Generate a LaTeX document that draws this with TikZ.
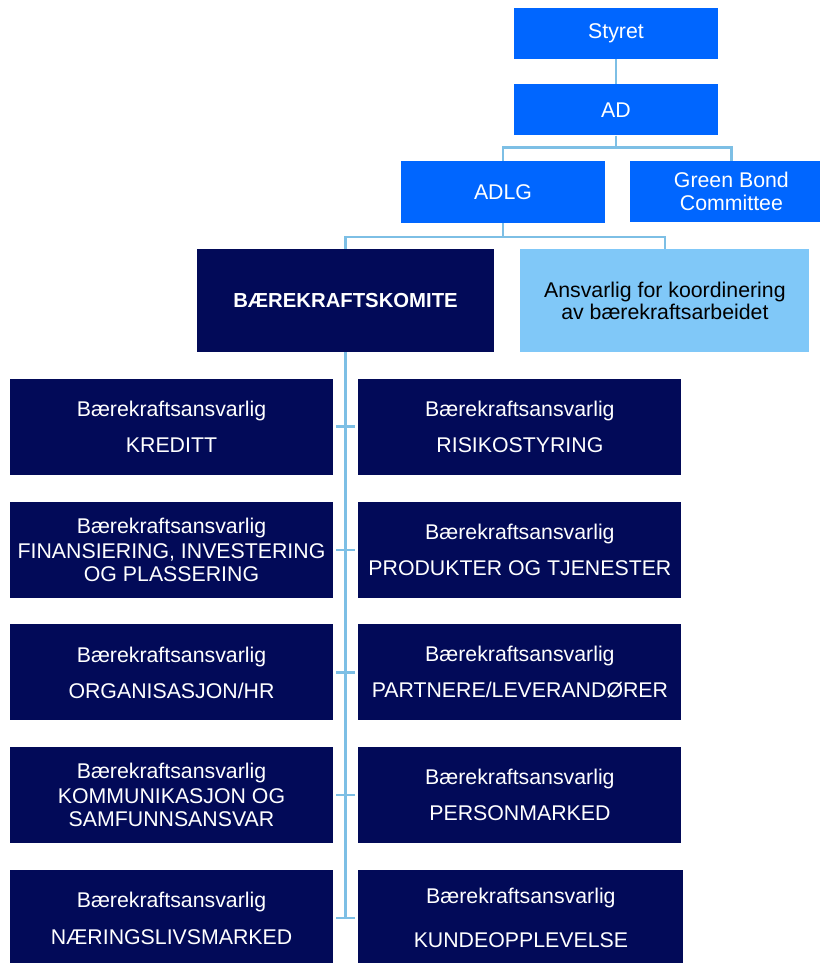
\documentclass[tikz,border=0pt]{standalone}
\usepackage{fontspec}
\setmainfont{Liberation Sans}
\usetikzlibrary{positioning}
\definecolor{topblue}{RGB}{0,102,255}
\definecolor{navy}{RGB}{2,10,88}
\definecolor{paleblue}{RGB}{128,200,248}
\definecolor{linkblue}{RGB}{125,191,229}

\begin{document}
\begin{tikzpicture}[font=\fontsize{21.3}{22.5}\selectfont,
  topbox/.style={rectangle, fill=topblue, text=white, align=center, inner sep=0pt, minimum width=204pt, minimum height=51pt},
  navybox/.style={rectangle, fill=navy, text=white, align=center, inner sep=0pt, minimum height=103pt},
  role/.style={rectangle, fill=navy, text=white, align=center, inner sep=0pt, minimum width=323pt, minimum height=96pt},
  link/.style={draw=linkblue, line width=2.5pt}]

\useasboundingbox (0,0) rectangle (819pt,-963pt);

% Top levels

\node [topbox] (styret) at (616pt,-33.5pt) {Styret};
\node [topbox, below=25pt of styret] (ad) {AD};
\node [topbox, minimum height=62pt, below=25pt of ad.south west, anchor=north west, xshift=-113pt] (adlg) {ADLG};
\node [topbox, minimum width=202pt, minimum height=61pt, right=25pt of adlg.north east, anchor=north west] (gbc) {Green Bond\\Committee};

\node [navybox, minimum width=297pt, below=26pt of adlg.south west, anchor=north west, xshift=-204pt] (komite) {\bfseries\fontsize{20.3}{22.5}\selectfont BÆREKRAFTSKOMITE};
\node [navybox, fill=paleblue, text=black, minimum width=289pt, right=26pt of komite.north east, anchor=north west] (koord) {Ansvarlig for koordinering\\av bærekraftsarbeidet};

% Responsible persons

\node [role, below=26pt of komite.south west, anchor=north west, xshift=-187pt] (k1) {Bærekraftsansvarlig\\[13.5pt]KREDITT};
\node [role, below=27pt of k1] (k2) {Bærekraftsansvarlig\\[2.5pt]FINANSIERING, INVESTERING\\OG PLASSERING};
\node [role, below=26pt of k2] (k3) {Bærekraftsansvarlig\\[13.5pt]ORGANISASJON/HR};
\node [role, below=26pt of k3] (k4) {Bærekraftsansvarlig\\[2.5pt]KOMMUNIKASJON OG\\SAMFUNNSANSVAR};
\node [role, below=27pt of k4] (k5) {Bærekraftsansvarlig\\[14.5pt]NÆRINGSLIVSMARKED};

\node [role, right=25pt of k1] (r1) {Bærekraftsansvarlig\\[13.5pt]RISIKOSTYRING};
\node [role, right=25pt of k2] (r2) {Bærekraftsansvarlig\\[13.5pt]PRODUKTER OG TJENESTER};
\node [role, right=25pt of k3] (r3) {Bærekraftsansvarlig\\[13.5pt]PARTNERE/LEVERANDØRER};
\node [role, right=25pt of k4] (r4) {Bærekraftsansvarlig\\[13.5pt]PERSONMARKED};
\node [role, minimum width=325pt, right=25pt of k5.east, anchor=west] (r5) {Bærekraftsansvarlig\\[21.5pt]KUNDEOPPLEVELSE};

% Connectors

\draw[link] (styret) -- (ad);
\draw[link] (ad.south) -- ++(0,-12pt) -| (adlg.north);
\draw[link] (ad.south) -- ++(0,-12pt) -| (gbc.north);
\draw[link] (adlg.south) -- ++(0,-14pt) -| (komite.north);
\draw[link] (adlg.south) -- ++(0,-14pt) -| (koord.north);
\draw[link] (komite.south) -- (komite.south |- k5.east);
\foreach \i in {1,...,5}
  \draw[link] ([xshift=3pt]k\i.east) -- ([xshift=-3pt]r\i.west);

\end{tikzpicture}
\end{document}
